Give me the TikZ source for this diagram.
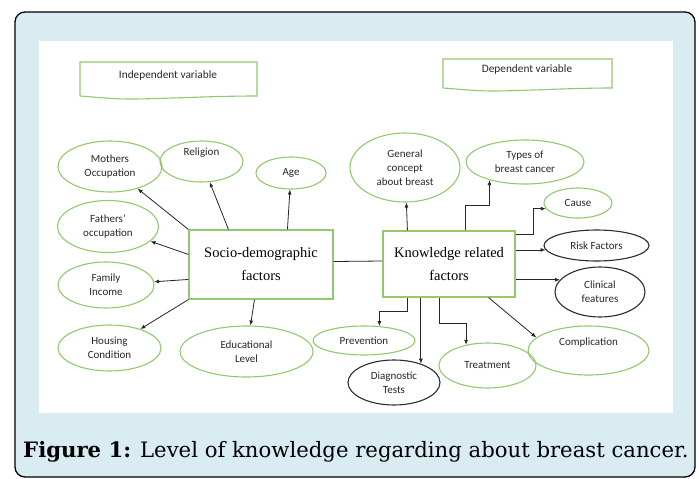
\documentclass[tikz,border=0pt]{standalone}
\usepackage{fontspec}
\setmainfont{Carlito}
\newfontfamily\boxfont{Liberation Serif}
\newfontfamily\capfont{DejaVu Serif}
\usetikzlibrary{shapes.geometric,arrows.meta,calc}
\definecolor{bgblue}{RGB}{216,236,241}
\definecolor{lgreen}{RGB}{146,201,110}
\definecolor{dgray}{RGB}{45,45,45}
\definecolor{txt}{RGB}{40,40,40}
\begin{document}
\begin{tikzpicture}[x=1pt,y=-1pt,
  ell/.style={ellipse,line width=1.1pt,inner sep=0pt,align=center,text=txt,
    font=\fontsize{11}{14}\selectfont},
  gell/.style={ell,draw=lgreen},
  bell/.style={ell,draw=dgray},
  fbox/.style={rectangle,draw=lgreen,line width=1.1pt,inner sep=0pt,align=center,
    font=\boxfont\fontsize{14.5}{23}\selectfont},
  doc/.style={draw=lgreen,line width=1.1pt},
  doctext/.style={text=txt,font=\fontsize{11.3}{13}\selectfont},
  arr/.style={-{Latex[length=5pt,width=4pt]},line width=0.8pt,draw=black!85},
  con/.style={line width=0.8pt,draw=black!85}]
\useasboundingbox (0,0) rectangle (699,479);
% frame
\draw[fill=bgblue,line width=1.3pt,rounded corners=10pt] (15,12) rectangle (695,477);
\fill[white] (39,41) rectangle (673,413);

% document boxes
\draw[doc] (80,96) -- (80,62) -- (257,62) -- (257,96)
  .. controls (210,96) and (160,99) .. (131,99)
  .. controls (110,99) and (95,97) .. (80,96);
\node[doctext] (ivt) at (168,75) {Independent variable};
\draw[doc] (443,88) -- (443,59) -- (612,59) -- (612,88)
  .. controls (570,88) and (520,91) .. (493,91)
  .. controls (475,91) and (458,89) .. (443,88);
\node[doctext] (dvt) at (527,69) {Dependent variable};

% main boxes
\node[fbox,minimum width=144pt,minimum height=69pt] (sd) at (261,264.5) {Socio-demographic\\factors};
\node[fbox,minimum width=132pt,minimum height=66pt] (kr) at (449,264) {Knowledge related\\factors};

% left ellipses
\node[gell,minimum width=104pt,minimum height=51pt] (mo) at (110,166.5) {Mothers\\Occupation};
\node[gell,minimum width=83pt,minimum height=41pt] (rel) at (201.5,161.5) {Religion\\[5pt]};
\node[gell,minimum width=70pt,minimum height=32pt] (age) at (291,173) {Age};
\node[gell,minimum width=101pt,minimum height=52pt] (fa) at (108,226.5) {Fathers’\\occupation};
\node[gell,minimum width=96pt,minimum height=46pt] (inc) at (106,285) {Family\\Income};
\node[gell,minimum width=103pt,minimum height=46pt] (hou) at (109.5,348) {Housing\\Condition};
\node[gell,minimum width=133pt,minimum height=51pt] (edu) at (246.5,351.5) {Educational\\Level};

% right ellipses
\node[gell,minimum width=110pt,minimum height=69pt] (gen) at (405,167.5) {General\\concept\\about breast};
\node[gell,minimum width=118pt,minimum height=44pt] (types) at (525,162) {Types of\\breast cancer};
\node[gell,minimum width=68pt,minimum height=30pt] (cause) at (578,203) {Cause};
\node[bell,minimum width=105pt,minimum height=31pt] (risk) at (596.5,245.5) {Risk Factors};
\node[bell,minimum width=90pt,minimum height=50pt] (cli) at (600,292) {Clinical\\features};
\node[gell,minimum width=121pt,minimum height=49pt] (comp) at (588.5,350.5) {Complication\\[4pt]};
\node[gell,minimum width=97pt,minimum height=45pt] (treat) at (487.5,365.5) {Treatment};
\node[bell,minimum width=92pt,minimum height=45pt] (diag) at (394,382.5) {Diagnostic\\Tests};
\node[gell,minimum width=102pt,minimum height=29pt] (prev) at (364,340.5) {Prevention};

% connector between boxes
\draw[con] ($(sd.east)+(0,-3)$) -- ($(kr.west)+(0,-3)$);

% socio-demographic arrows
\draw[arr] (sd.north west) -- (mo);
\draw[arr] ($(sd.north west)+(40,0)$) -- (rel);
\draw[arr] ($(sd.north west)+(99,0)$) -- (age);
\draw[arr] ($(sd.north west)+(0,25)$) -- (fa);
\draw[arr] ($(sd.north west)+(0,50)$) -- (inc);
\draw[arr] (sd.south west) -- (hou);
\draw[arr] ($(sd.south west)+(66,0)$) -- (edu);

% knowledge arrows
\draw[arr] ($(kr.north west)+(25,0)$) -- (gen);
\draw[arr] ($(kr.north west)+(83,0)$) -- ++(0,-25) -| (types.207);
\draw[arr] ($(kr.north east)+(0,4)$) -- ++(18,0) |- (cause.190);
\draw[arr] (kr.east |- risk.185) -- (risk.185);
\draw[arr] (kr.east |- cli.163) -- (cli.163);
\draw[arr] ($(kr.south east)+(-27,0)$) -- (comp.166);
\draw[arr] ($(kr.south west)+(25,0)$) -- ++(0,14) -| (prev.43);
\draw[arr] (diag.35 |- kr.south) -- (diag.35);
\draw[arr] ($(kr.south west)+(57,0)$) -- ++(0,26) -| (treat.136);

% caption
\node[anchor=base west,inner sep=0pt] (cap) at (23,457)
  {\capfont\fontsize{21.2}{24}\selectfont\textbf{Figure 1:} Level of knowledge regarding about breast cancer.};
\end{tikzpicture}
\end{document}
